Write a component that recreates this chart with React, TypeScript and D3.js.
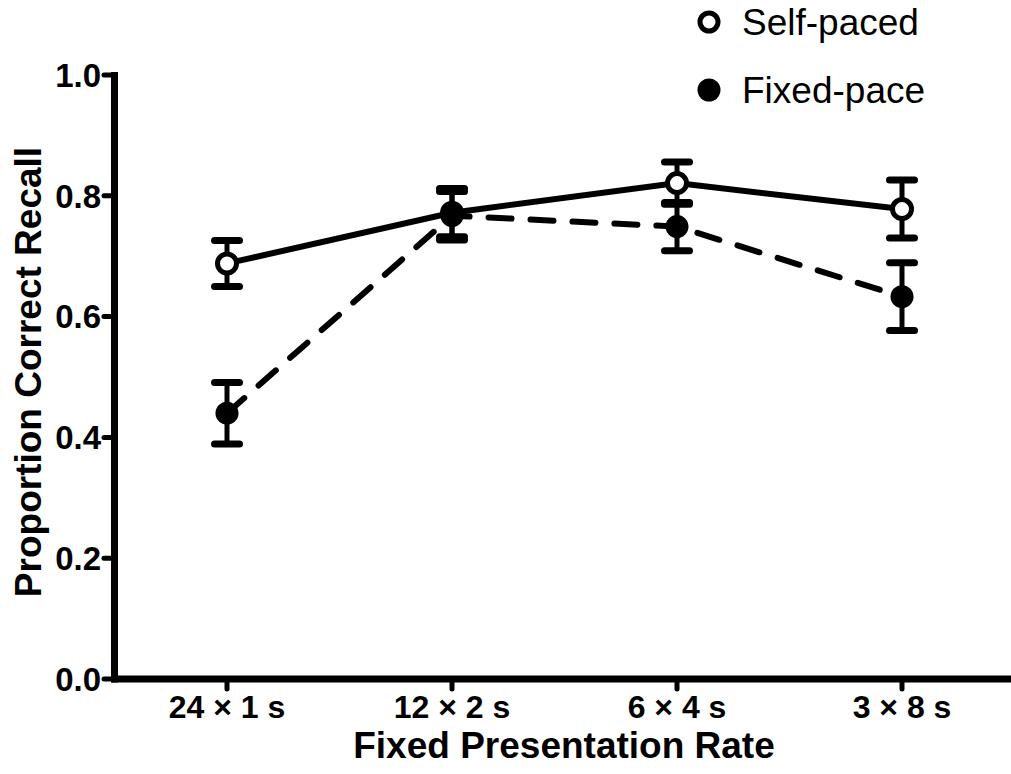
import React from "react";
import * as d3 from "d3";

const categories = ["24 × 1 s", "12 × 2 s", "6 × 4 s", "3 × 8 s"];
const selfPaced = [0.688, 0.772, 0.821, 0.778];
const selfErr = [0.038, 0.04, 0.035, 0.048];
const fixedPace = [0.44, 0.767, 0.749, 0.633];
const fixedErr = [0.051, 0.04, 0.04, 0.056];
const yTicks = [0, 0.2, 0.4, 0.6, 0.8, 1.0];
const seriesNames = ["Self-paced", "Fixed-pace"];

const W = 1011;
const H = 774;
const FONT = "'Liberation Sans', Arial, Helvetica, sans-serif";

export default function App() {
  const x = d3.scalePoint<string>().domain(categories).range([114.5, 1014.5]).padding(0.5);
  const y = d3.scaleLinear().domain([0, 1]).range([679, 75]);
  const xAxisLeft = 111;
  const xAxisRight = 1011;

  const lineGen = d3
    .line<number>()
    .x((_, i) => x(categories[i]) as number)
    .y((d) => y(d));

  const series = [
    { name: seriesNames[0], values: selfPaced, errs: selfErr, filled: false, dash: undefined as string | undefined },
    { name: seriesNames[1], values: fixedPace, errs: fixedErr, filled: true, dash: "23 19" },
  ];

  return (
    <svg
      width={W}
      height={H}
      style={{ position: "absolute", left: 0, top: 0, background: "#fff" }}
      fontFamily={FONT}
    >
      {/* axes */}
      <line x1={114.5} x2={114.5} y1={y(1) - 3} y2={y(0) + 3.5} stroke="#000" strokeWidth={7} />
      <line x1={xAxisLeft} x2={xAxisRight} y1={y(0)} y2={y(0)} stroke="#000" strokeWidth={7} />
      {yTicks.map((t) => (
        <g key={t}>
          <line x1={104} x2={114} y1={y(t)} y2={y(t)} stroke="#000" strokeWidth={5} strokeLinecap="round" />
          <text x={101} y={y(t)} dy="0.36em" textAnchor="end" fontWeight="bold" fontSize={33}>
            {t.toFixed(1)}
          </text>
        </g>
      ))}
      {categories.map((c) => (
        <g key={c}>
          <line x1={x(c)} x2={x(c)} y1={y(0)} y2={y(0) + 10} stroke="#000" strokeWidth={5} strokeLinecap="round" />
          <text x={x(c)} y={718} textAnchor="middle" fontWeight="bold" fontSize={32}>
            {c}
          </text>
        </g>
      ))}
      <text x={564} y={758} textAnchor="middle" fontWeight="bold" fontSize={37}>
        Fixed Presentation Rate
      </text>
      <text
        transform={`translate(41, ${(y(0) + y(1)) / 2 - 5}) rotate(-90)`}
        textAnchor="middle"
        fontWeight="bold"
        fontSize={37}
      >
        Proportion Correct Recall
      </text>

      {/* lines */}
      {series.map((s) => (
        <path
          key={s.name}
          d={lineGen(s.values) as string}
          fill="none"
          stroke="#000"
          strokeWidth={6}
          strokeDasharray={s.dash}
          strokeLinecap={s.dash ? "round" : "butt"}
        />
      ))}

      {/* error bars */}
      {series.map((s) =>
        s.values.map((v, i) => {
          const cx = x(categories[i]) as number;
          const top = y(v + s.errs[i]);
          const bot = y(v - s.errs[i]);
          return (
            <g key={s.name + i}>
              <line x1={cx} x2={cx} y1={top} y2={bot} stroke="#000" strokeWidth={5} />
              <line x1={cx - 12.5} x2={cx + 12.5} y1={top} y2={top} stroke="#000" strokeWidth={7} strokeLinecap="round" />
              <line x1={cx - 12.5} x2={cx + 12.5} y1={bot} y2={bot} stroke="#000" strokeWidth={7} strokeLinecap="round" />
            </g>
          );
        })
      )}

      {/* markers */}
      {series.map((s) =>
        s.values.map((v, i) => (
          <circle
            key={s.name + "m" + i}
            cx={x(categories[i]) as number}
            cy={y(v)}
            r={s.filled ? 11.5 : 9.5}
            fill={s.filled ? "#000" : "#fff"}
            stroke="#000"
            strokeWidth={s.filled ? 0 : 5}
          />
        ))
      )}

      {/* legend */}
      {series.map((s, i) => (
        <g key={s.name + "leg"} transform={`translate(709, ${22 + i * 68})`}>
          <circle
            cx={0}
            cy={0}
            r={s.filled ? 11.5 : 9}
            fill={s.filled ? "#000" : "#fff"}
            stroke="#000"
            strokeWidth={s.filled ? 0 : 5}
          />
          <text x={33} y={0} dy="0.36em" fontSize={37}>
            {s.name}
          </text>
        </g>
      ))}
    </svg>
  );
}
